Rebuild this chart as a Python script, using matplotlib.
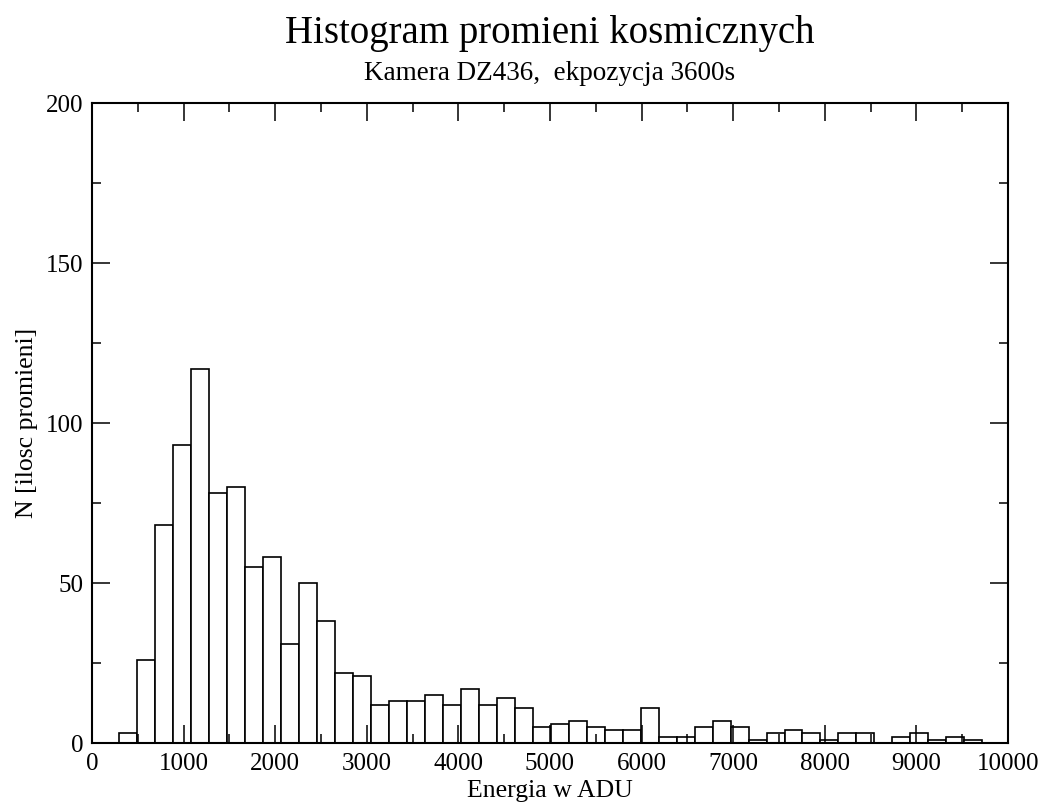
import matplotlib
matplotlib.use("Agg")
import matplotlib.pyplot as plt
from matplotlib.ticker import MultipleLocator
import numpy as np

plt.rcParams["font.family"] = "Liberation Serif"

# histogram data
bin_start = 297.0
bin_width = 196.3
counts = [3, 26, 68, 93, 117, 78, 80, 55, 58, 31, 50, 38, 22, 21, 12, 13, 13, 15,
          12, 17, 12, 14, 11, 5, 6, 7, 5, 4, 4, 11, 2, 2, 5, 7, 5, 1, 3, 4, 3, 1,
          3, 3, 0, 2, 3, 1, 2, 1]

title = "Histogram promieni kosmicznych"
subtitle = "Kamera DZ436,  ekpozycja 3600s"
xlabel = "Energia w ADU"
ylabel = "N [ilosc promieni]"

fig = plt.figure(figsize=(10.47, 8.02), dpi=100)
# axes box in pixels: left 92, right 1008, top 103, bottom 743
ax = fig.add_axes([92 / 1047, 1 - 743 / 802, (1008 - 92) / 1047, (743 - 103) / 802])

lefts = bin_start + bin_width * np.arange(len(counts))
ax.bar(lefts, counts, width=bin_width, align="edge",
       facecolor="white", edgecolor="black", linewidth=1.2)

ax.set_xlim(0, 10000)
ax.set_ylim(0, 200)
ax.xaxis.set_major_locator(MultipleLocator(1000))
ax.xaxis.set_minor_locator(MultipleLocator(500))
ax.yaxis.set_major_locator(MultipleLocator(50))
ax.yaxis.set_minor_locator(MultipleLocator(25))

ax.tick_params(which="both", direction="in", top=True, right=True,
               width=1.1, labelsize=18)
ax.tick_params(which="major", length=13, pad=6)
ax.tick_params(axis="x", which="major", pad=7.5)
ax.tick_params(which="minor", length=6.5)
for s in ax.spines.values():
    s.set_linewidth(1.5)

ax.set_xlabel(xlabel, fontsize=18.5, labelpad=3)
ax.set_ylabel(ylabel, fontsize=18.5, labelpad=6)

cx = (92 + 1008) / 2 / 1047
fig.text(cx, 1 - 33 / 802, title, ha="center", va="center", fontsize=28)
fig.text(cx, 1 - 73 / 802, subtitle, ha="center", va="center", fontsize=19.5)

fig.savefig("out.png", dpi=100)
